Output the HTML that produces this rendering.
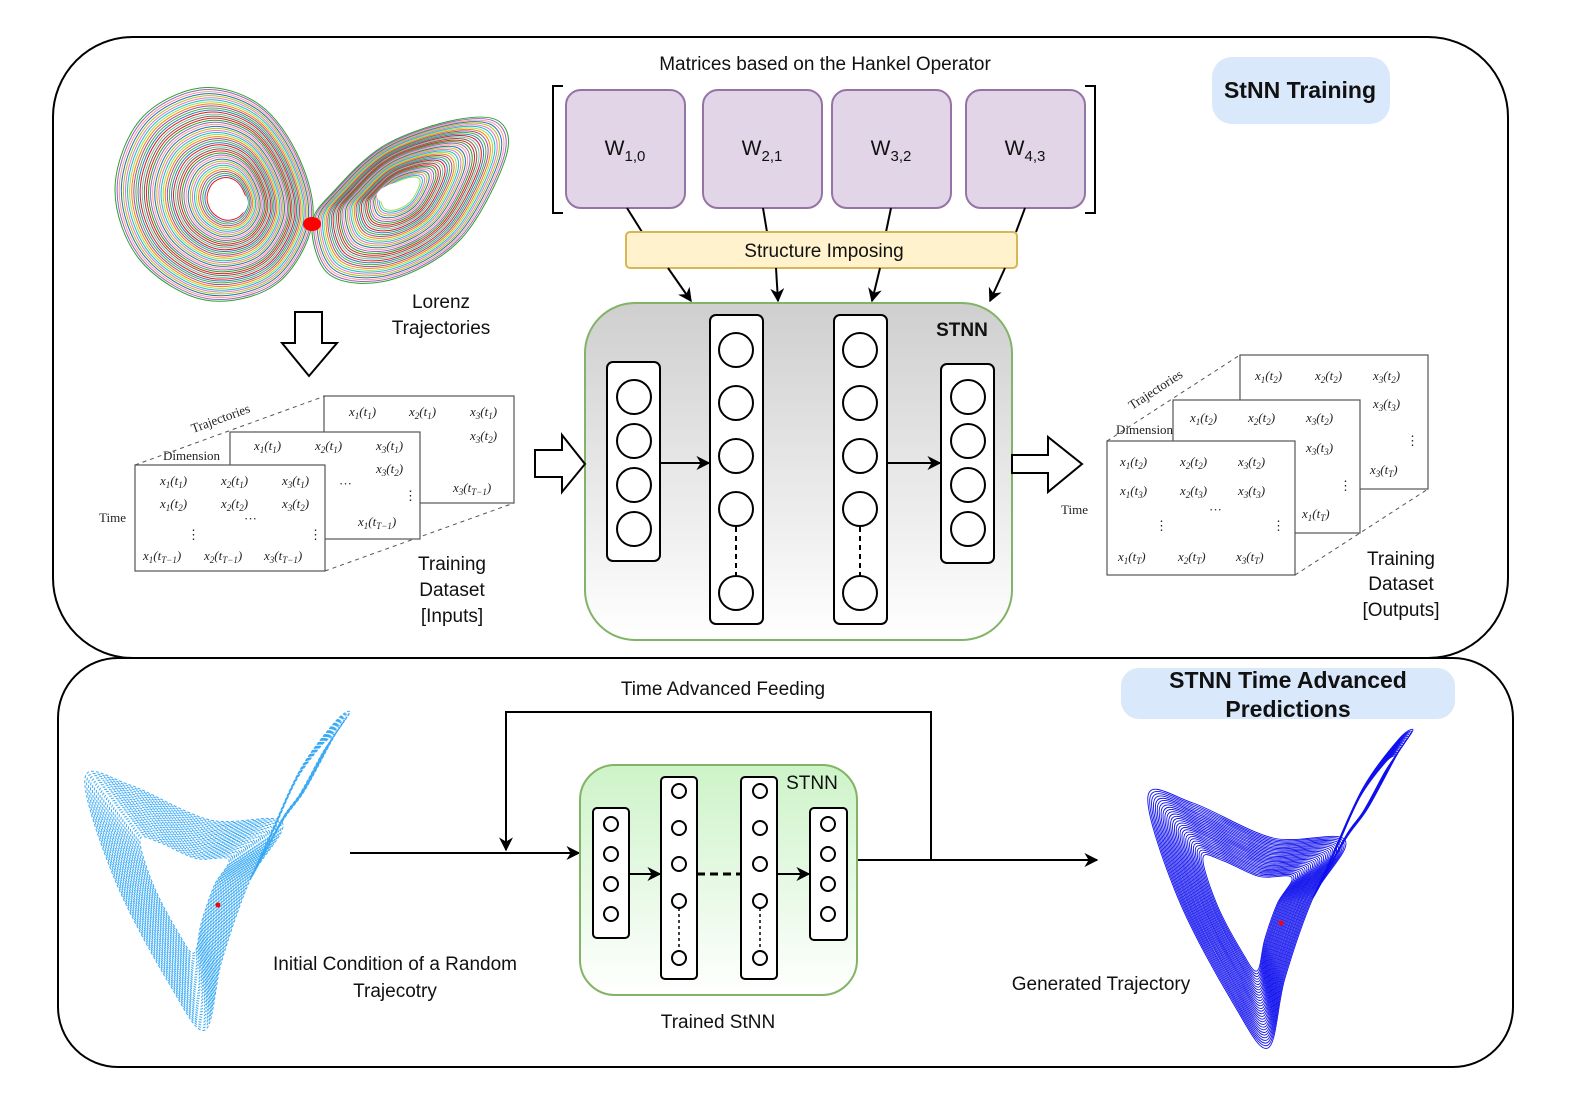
<!DOCTYPE html>
<html><head><meta charset="utf-8"><style>
html,body{margin:0;padding:0;background:#fff;overflow:hidden;width:1578px;height:1114px}
svg{display:block}
text{font-family:"Liberation Sans",sans-serif;fill:#111}
.m{font-family:"Liberation Serif",serif;font-style:italic;font-size:13px;fill:#222}
.mr{font-family:"Liberation Serif",serif;font-size:13px;fill:#222}
</style></head><body>
<svg id="s" width="1578" height="1114" viewBox="0 0 1578 1114" xmlns="http://www.w3.org/2000/svg">
<defs>
<linearGradient id="g1" x1="0" y1="0" x2="0" y2="1"><stop offset="0" stop-color="#cfcfcf"/><stop offset="1" stop-color="#ffffff"/></linearGradient>
<linearGradient id="g2" x1="0" y1="0" x2="0" y2="1"><stop offset="0" stop-color="#cdf3c8"/><stop offset="1" stop-color="#ffffff"/></linearGradient>
<marker id="ar" viewBox="0 0 10 10" refX="9" refY="5" markerWidth="7" markerHeight="7" orient="auto"><path d="M0,0 L10,5 L0,10 L3,5 z" fill="#000"/></marker>
</defs>
<rect x="53" y="37" width="1455" height="621" rx="80" fill="none" stroke="#000" stroke-width="2"/>
<rect x="58" y="658" width="1455" height="409" rx="60" fill="none" stroke="#000" stroke-width="2"/>
<g id="attr"></g>

<text x="825" y="70" font-size="19" text-anchor="middle">Matrices based on the Hankel Operator</text>
<rect x="1212" y="57" width="178" height="67" rx="20" fill="#dae8fc"/>
<text x="1300" y="98" font-size="23" font-weight="bold" text-anchor="middle">StNN Training</text>
<path d="M563,86 H553 V213 H563 M1085,86 H1095 V213 H1085" fill="none" stroke="#000" stroke-width="2"/>
<g fill="#e1d5e7" stroke="#9673a6" stroke-width="2">
<rect x="566" y="90" width="119" height="118" rx="15"/>
<rect x="703" y="90" width="119" height="118" rx="15"/>
<rect x="832" y="90" width="119" height="118" rx="15"/>
<rect x="966" y="90" width="119" height="118" rx="15"/>
</g>
<g font-size="21" text-anchor="middle">
<text x="625" y="155">W<tspan font-size="15" dy="6">1,0</tspan></text>
<text x="762" y="155">W<tspan font-size="15" dy="6">2,1</tspan></text>
<text x="891" y="155">W<tspan font-size="15" dy="6">3,2</tspan></text>
<text x="1025" y="155">W<tspan font-size="15" dy="6">4,3</tspan></text>
</g>
<g stroke="#000" stroke-width="2"><line x1="627" y1="208" x2="642" y2="232"/><line x1="763" y1="208" x2="767" y2="232"/><line x1="891" y1="208" x2="886" y2="232"/><line x1="1025" y1="208" x2="1016" y2="232"/></g>
<rect x="626" y="232" width="391" height="36" rx="4" fill="#fff2cc" stroke="#d6b656" stroke-width="2"/>
<text x="824" y="257" font-size="19" text-anchor="middle">Structure Imposing</text>
<g stroke="#000" stroke-width="2" marker-end="url(#ar)"><line x1="668" y1="268" x2="691" y2="301"/><line x1="776" y1="268" x2="778" y2="301"/><line x1="880" y1="268" x2="872" y2="301"/><line x1="1005" y1="268" x2="990" y2="301"/></g>

<rect x="585" y="303" width="427" height="337" rx="50" fill="url(#g1)" stroke="#82b366" stroke-width="2"/>
<text x="962" y="336" font-size="19" font-weight="bold" text-anchor="middle">STNN</text>
<g fill="#fff" stroke="#000" stroke-width="2">
<rect x="607" y="362" width="53" height="199" rx="6"/>
<rect x="710" y="315" width="53" height="309" rx="6"/>
<rect x="834" y="315" width="53" height="309" rx="6"/>
<rect x="941" y="364" width="53" height="199" rx="6"/>
<circle cx="634" cy="397" r="17"/><circle cx="634" cy="441" r="17"/><circle cx="634" cy="485" r="17"/><circle cx="634" cy="529" r="17"/>
<circle cx="736" cy="350" r="17"/><circle cx="736" cy="403" r="17"/><circle cx="736" cy="456" r="17"/><circle cx="736" cy="509" r="17"/><circle cx="736" cy="593" r="17"/>
<circle cx="860" cy="350" r="17"/><circle cx="860" cy="403" r="17"/><circle cx="860" cy="456" r="17"/><circle cx="860" cy="509" r="17"/><circle cx="860" cy="593" r="17"/>
<circle cx="968" cy="397" r="17"/><circle cx="968" cy="441" r="17"/><circle cx="968" cy="485" r="17"/><circle cx="968" cy="529" r="17"/>
</g>
<g stroke="#000" stroke-width="2" stroke-dasharray="5,4"><line x1="736" y1="527" x2="736" y2="576"/><line x1="860" y1="527" x2="860" y2="576"/></g>
<g stroke="#000" stroke-width="2" marker-end="url(#ar)"><line x1="660" y1="463" x2="709" y2="463"/><line x1="887" y1="463" x2="940" y2="463"/></g>

<g fill="#fff" stroke="#000" stroke-width="2">
<path d="M295,312 H322 V343 H337 L309,376 L282,343 H295 Z"/>
<path d="M535,450 H562 V435 L585,464 L562,492 V477 H535 Z"/>
<path d="M1012,455 H1048 V437 L1082,464 L1048,492 V473 H1012 Z"/>
</g>
<text x="441" y="308" font-size="19" text-anchor="middle">Lorenz</text>
<text x="441" y="334" font-size="19" text-anchor="middle">Trajectories</text>
<text x="452" y="570" font-size="19" text-anchor="middle">Training</text>
<text x="452" y="596" font-size="19" text-anchor="middle">Dataset</text>
<text x="452" y="622" font-size="19" text-anchor="middle">[Inputs]</text>
<text x="1401" y="565" font-size="19" text-anchor="middle">Training</text>
<text x="1401" y="590" font-size="19" text-anchor="middle">Dataset</text>
<text x="1401" y="616" font-size="19" text-anchor="middle">[Outputs]</text>

<g stroke="#555" stroke-width="1" stroke-dasharray="4,4" fill="none">
<line x1="135" y1="465" x2="325" y2="396"/><line x1="325" y1="571" x2="514" y2="503"/><line x1="420" y1="396" x2="514" y2="396"/>
</g>
<g stroke="#555" stroke-width="1.2" fill="#fff">
<rect x="324" y="396" width="190" height="107"/>
<rect x="230" y="432" width="190" height="107"/>
<rect x="135" y="465" width="190" height="106"/>
</g>
<text class="m" x="349" y="416">x<tspan font-size="9" dy="3">1</tspan><tspan dy="-3">(t</tspan><tspan font-size="9" dy="3">1</tspan><tspan dy="-3">)</tspan></text>
<text class="m" x="409" y="416">x<tspan font-size="9" dy="3">2</tspan><tspan dy="-3">(t</tspan><tspan font-size="9" dy="3">1</tspan><tspan dy="-3">)</tspan></text>
<text class="m" x="470" y="416">x<tspan font-size="9" dy="3">3</tspan><tspan dy="-3">(t</tspan><tspan font-size="9" dy="3">1</tspan><tspan dy="-3">)</tspan></text>
<text class="m" x="470" y="440">x<tspan font-size="9" dy="3">3</tspan><tspan dy="-3">(t</tspan><tspan font-size="9" dy="3">2</tspan><tspan dy="-3">)</tspan></text>
<text class="m" x="453" y="492">x<tspan font-size="9" dy="3">3</tspan><tspan dy="-3">(t</tspan><tspan font-size="9" dy="3">T−1</tspan><tspan dy="-3">)</tspan></text>
<text class="m" x="254" y="450">x<tspan font-size="9" dy="3">1</tspan><tspan dy="-3">(t</tspan><tspan font-size="9" dy="3">1</tspan><tspan dy="-3">)</tspan></text>
<text class="m" x="315" y="450">x<tspan font-size="9" dy="3">2</tspan><tspan dy="-3">(t</tspan><tspan font-size="9" dy="3">1</tspan><tspan dy="-3">)</tspan></text>
<text class="m" x="376" y="450">x<tspan font-size="9" dy="3">3</tspan><tspan dy="-3">(t</tspan><tspan font-size="9" dy="3">1</tspan><tspan dy="-3">)</tspan></text>
<text class="m" x="376" y="473">x<tspan font-size="9" dy="3">3</tspan><tspan dy="-3">(t</tspan><tspan font-size="9" dy="3">2</tspan><tspan dy="-3">)</tspan></text>
<text class="m" x="358" y="526">x<tspan font-size="9" dy="3">1</tspan><tspan dy="-3">(t</tspan><tspan font-size="9" dy="3">T−1</tspan><tspan dy="-3">)</tspan></text>
<text class="mr" x="404" y="500">⋮</text>
<text class="mr" x="339" y="488">···</text>
<text class="m" x="160" y="485">x<tspan font-size="9" dy="3">1</tspan><tspan dy="-3">(t</tspan><tspan font-size="9" dy="3">1</tspan><tspan dy="-3">)</tspan></text>
<text class="m" x="221" y="485">x<tspan font-size="9" dy="3">2</tspan><tspan dy="-3">(t</tspan><tspan font-size="9" dy="3">1</tspan><tspan dy="-3">)</tspan></text>
<text class="m" x="282" y="485">x<tspan font-size="9" dy="3">3</tspan><tspan dy="-3">(t</tspan><tspan font-size="9" dy="3">1</tspan><tspan dy="-3">)</tspan></text>
<text class="m" x="160" y="508">x<tspan font-size="9" dy="3">1</tspan><tspan dy="-3">(t</tspan><tspan font-size="9" dy="3">2</tspan><tspan dy="-3">)</tspan></text>
<text class="m" x="221" y="508">x<tspan font-size="9" dy="3">2</tspan><tspan dy="-3">(t</tspan><tspan font-size="9" dy="3">2</tspan><tspan dy="-3">)</tspan></text>
<text class="m" x="282" y="508">x<tspan font-size="9" dy="3">3</tspan><tspan dy="-3">(t</tspan><tspan font-size="9" dy="3">2</tspan><tspan dy="-3">)</tspan></text>
<text class="mr" x="244" y="523">···</text>
<text class="mr" x="187" y="539">⋮</text><text class="mr" x="309" y="539">⋮</text>
<text class="m" x="143" y="560">x<tspan font-size="9" dy="3">1</tspan><tspan dy="-3">(t</tspan><tspan font-size="9" dy="3">T−1</tspan><tspan dy="-3">)</tspan></text>
<text class="m" x="204" y="560">x<tspan font-size="9" dy="3">2</tspan><tspan dy="-3">(t</tspan><tspan font-size="9" dy="3">T−1</tspan><tspan dy="-3">)</tspan></text>
<text class="m" x="264" y="560">x<tspan font-size="9" dy="3">3</tspan><tspan dy="-3">(t</tspan><tspan font-size="9" dy="3">T−1</tspan><tspan dy="-3">)</tspan></text>
<text class="mr" x="99" y="522">Time</text>
<text class="mr" x="163" y="460">Dimension</text>
<text class="mr" x="193" y="433" transform="rotate(-20 193 433)">Trajectories</text>

<g stroke="#555" stroke-width="1" stroke-dasharray="4,4" fill="none">
<line x1="1107" y1="441" x2="1240" y2="355"/><line x1="1295" y1="575" x2="1428" y2="489"/><line x1="1360" y1="355" x2="1428" y2="355"/>
</g>
<g stroke="#555" stroke-width="1.2" fill="#fff">
<rect x="1240" y="355" width="188" height="134"/>
<rect x="1173" y="400" width="187" height="133"/>
<rect x="1107" y="441" width="188" height="134"/>
</g>
<text class="m" x="1255" y="380">x<tspan font-size="9" dy="3">1</tspan><tspan dy="-3">(t</tspan><tspan font-size="9" dy="3">2</tspan><tspan dy="-3">)</tspan></text>
<text class="m" x="1315" y="380">x<tspan font-size="9" dy="3">2</tspan><tspan dy="-3">(t</tspan><tspan font-size="9" dy="3">2</tspan><tspan dy="-3">)</tspan></text>
<text class="m" x="1373" y="380">x<tspan font-size="9" dy="3">3</tspan><tspan dy="-3">(t</tspan><tspan font-size="9" dy="3">2</tspan><tspan dy="-3">)</tspan></text>
<text class="m" x="1373" y="408">x<tspan font-size="9" dy="3">3</tspan><tspan dy="-3">(t</tspan><tspan font-size="9" dy="3">3</tspan><tspan dy="-3">)</tspan></text>
<text class="mr" x="1406" y="445">⋮</text>
<text class="m" x="1370" y="474">x<tspan font-size="9" dy="3">3</tspan><tspan dy="-3">(t</tspan><tspan font-size="9" dy="3">T</tspan><tspan dy="-3">)</tspan></text>
<text class="m" x="1190" y="422">x<tspan font-size="9" dy="3">1</tspan><tspan dy="-3">(t</tspan><tspan font-size="9" dy="3">2</tspan><tspan dy="-3">)</tspan></text>
<text class="m" x="1248" y="422">x<tspan font-size="9" dy="3">2</tspan><tspan dy="-3">(t</tspan><tspan font-size="9" dy="3">2</tspan><tspan dy="-3">)</tspan></text>
<text class="m" x="1306" y="422">x<tspan font-size="9" dy="3">3</tspan><tspan dy="-3">(t</tspan><tspan font-size="9" dy="3">2</tspan><tspan dy="-3">)</tspan></text>
<text class="m" x="1306" y="452">x<tspan font-size="9" dy="3">3</tspan><tspan dy="-3">(t</tspan><tspan font-size="9" dy="3">3</tspan><tspan dy="-3">)</tspan></text>
<text class="mr" x="1339" y="490">⋮</text>
<text class="m" x="1302" y="518">x<tspan font-size="9" dy="3">1</tspan><tspan dy="-3">(t</tspan><tspan font-size="9" dy="3">T</tspan><tspan dy="-3">)</tspan></text>
<text class="m" x="1120" y="466">x<tspan font-size="9" dy="3">1</tspan><tspan dy="-3">(t</tspan><tspan font-size="9" dy="3">2</tspan><tspan dy="-3">)</tspan></text>
<text class="m" x="1180" y="466">x<tspan font-size="9" dy="3">2</tspan><tspan dy="-3">(t</tspan><tspan font-size="9" dy="3">2</tspan><tspan dy="-3">)</tspan></text>
<text class="m" x="1238" y="466">x<tspan font-size="9" dy="3">3</tspan><tspan dy="-3">(t</tspan><tspan font-size="9" dy="3">2</tspan><tspan dy="-3">)</tspan></text>
<text class="m" x="1120" y="495">x<tspan font-size="9" dy="3">1</tspan><tspan dy="-3">(t</tspan><tspan font-size="9" dy="3">3</tspan><tspan dy="-3">)</tspan></text>
<text class="m" x="1180" y="495">x<tspan font-size="9" dy="3">2</tspan><tspan dy="-3">(t</tspan><tspan font-size="9" dy="3">3</tspan><tspan dy="-3">)</tspan></text>
<text class="m" x="1238" y="495">x<tspan font-size="9" dy="3">3</tspan><tspan dy="-3">(t</tspan><tspan font-size="9" dy="3">3</tspan><tspan dy="-3">)</tspan></text>
<text class="mr" x="1209" y="514">···</text>
<text class="mr" x="1155" y="530">⋮</text><text class="mr" x="1272" y="530">⋮</text>
<text class="m" x="1118" y="561">x<tspan font-size="9" dy="3">1</tspan><tspan dy="-3">(t</tspan><tspan font-size="9" dy="3">T</tspan><tspan dy="-3">)</tspan></text>
<text class="m" x="1178" y="561">x<tspan font-size="9" dy="3">2</tspan><tspan dy="-3">(t</tspan><tspan font-size="9" dy="3">T</tspan><tspan dy="-3">)</tspan></text>
<text class="m" x="1236" y="561">x<tspan font-size="9" dy="3">3</tspan><tspan dy="-3">(t</tspan><tspan font-size="9" dy="3">T</tspan><tspan dy="-3">)</tspan></text>
<text class="mr" x="1061" y="514" font-size="14">Time</text>
<text class="mr" x="1116" y="434" font-size="14">Dimension</text>
<text class="mr" x="1132" y="410" font-size="14" transform="rotate(-33 1132 410)">Trajectories</text>

<text x="723" y="695" font-size="19" text-anchor="middle">Time Advanced Feeding</text>
<rect x="1121" y="668" width="334" height="51" rx="18" fill="#dae8fc"/>
<text x="1288" y="688" font-size="23" font-weight="bold" text-anchor="middle">STNN Time Advanced</text>
<text x="1288" y="717" font-size="23" font-weight="bold" text-anchor="middle">Predictions</text>
<path d="M857,860 H931 V712 H506 V850" fill="none" stroke="#000" stroke-width="2" marker-end="url(#ar)"/>
<line x1="931" y1="860" x2="1097" y2="860" stroke="#000" stroke-width="2" marker-end="url(#ar)"/>
<line x1="350" y1="853" x2="579" y2="853" stroke="#000" stroke-width="2" marker-end="url(#ar)"/>
<rect x="580" y="765" width="277" height="230" rx="35" fill="url(#g2)" stroke="#82b366" stroke-width="2"/>
<text x="812" y="789" font-size="19" text-anchor="middle">STNN</text>
<g fill="#fff" stroke="#000" stroke-width="2">
<rect x="593" y="808" width="36" height="130" rx="4"/>
<rect x="661" y="777" width="36" height="202" rx="4"/>
<rect x="741" y="777" width="36" height="202" rx="4"/>
<rect x="810" y="808" width="37" height="132" rx="4"/>
<circle cx="611" cy="824" r="7"/><circle cx="611" cy="854" r="7"/><circle cx="611" cy="884" r="7"/><circle cx="611" cy="914" r="7"/>
<circle cx="679" cy="791" r="7"/><circle cx="679" cy="828" r="7"/><circle cx="679" cy="864" r="7"/><circle cx="679" cy="901" r="7"/><circle cx="679" cy="958" r="7"/>
<circle cx="760" cy="791" r="7"/><circle cx="760" cy="828" r="7"/><circle cx="760" cy="864" r="7"/><circle cx="760" cy="901" r="7"/><circle cx="760" cy="958" r="7"/>
<circle cx="828" cy="824" r="7"/><circle cx="828" cy="854" r="7"/><circle cx="828" cy="884" r="7"/><circle cx="828" cy="914" r="7"/>
</g>
<g stroke="#000" stroke-width="1.5" stroke-dasharray="3,3"><line x1="679" y1="908" x2="679" y2="951"/><line x1="760" y1="908" x2="760" y2="951"/></g>
<line x1="697" y1="874" x2="741" y2="874" stroke="#000" stroke-width="3" stroke-dasharray="8,5"/>
<g stroke="#000" stroke-width="2" marker-end="url(#ar)"><line x1="629" y1="874" x2="660" y2="874"/><line x1="777" y1="874" x2="809" y2="874"/></g>
<text x="718" y="1028" font-size="19" text-anchor="middle">Trained StNN</text>
<text x="395" y="970" font-size="19" text-anchor="middle">Initial Condition of a Random</text>
<text x="395" y="997" font-size="19" text-anchor="middle">Trajecotry</text>
<text x="1101" y="990" font-size="19" text-anchor="middle">Generated Trajectory</text>
</svg>
<script>
(function(){
var g=document.getElementById('attr'),NS='http://www.w3.org/2000/svg';
function el(t,a){var e=document.createElementNS(NS,t);for(var k in a)e.setAttribute(k,a[k]);g.appendChild(e);return e;}
function closed(pts){var n=pts.length,d='M'+pts[0][0].toFixed(1)+','+pts[0][1].toFixed(1);
for(var i=0;i<n;i++){var p0=pts[(i-1+n)%n],p1=pts[i],p2=pts[(i+1)%n],p3=pts[(i+2)%n];
d+=' C'+(p1[0]+(p2[0]-p0[0])/6).toFixed(1)+','+(p1[1]+(p2[1]-p0[1])/6).toFixed(1)+' '+(p2[0]-(p3[0]-p1[0])/6).toFixed(1)+','+(p2[1]-(p3[1]-p1[1])/6).toFixed(1)+' '+p2[0].toFixed(1)+','+p2[1].toFixed(1);}
return d+'Z';}
function scaled(pts,c,s){return pts.map(function(p){return[c[0]+(p[0]-c[0])*s,c[1]+(p[1]-c[1])*s];});}
var cols=['#e41a1c','#377eb8','#4daf4a','#984ea3','#ff7f00','#a6d854','#17becf','#e377c2','#bcbd22','#1f77b4','#ff9896','#9467bd','#2ca02c','#d62728','#8c564b','#66c2a5'];
var L=[[312,225],[300,160],[260,105],[200,88],[140,120],[115,190],[140,260],[205,300],[275,285]];
var R=[[312,225],[330,275],[390,280],[460,240],[505,160],[500,122],[455,120],[385,145],[335,190]];
for(var i=0;i<45;i++){var s=0.2+0.8*i/44;
el('path',{d:closed(scaled(L,[230,200],s)),fill:'none',stroke:cols[i%cols.length],'stroke-width':1});}
for(var i=0;i<40;i++){var s=0.2+0.8*i/39;
el('path',{d:closed(scaled(R,[398,192],s)),fill:'none',stroke:cols[(i+5)%cols.length],'stroke-width':1});}
el('ellipse',{cx:230,cy:203,rx:18,ry:14,fill:'#fff'});
el('ellipse',{cx:396,cy:192,rx:20,ry:9,fill:'#fff',transform:'rotate(-15 396 192)'});
el('ellipse',{cx:312,cy:224,rx:9,ry:7,fill:'#f00'});
function bfly(dx,dy,col,dash,w){
var A=[[282,822],[250,880],[222,960],[205,1030],[170,985],[115,880],[85,778],[130,785],[210,820]];
var B=[[282,822],[305,790],[335,735],[350,712],[335,722],[300,770],[268,840],[250,880]];
for(var i=0;i<30;i++){var s=0.45+0.55*i/29;
var a=A.map(function(p){return[p[0]+dx,p[1]+dy];});
el('path',{d:closed(scaled(a,[185+dx,890+dy],s)),fill:'none',stroke:col,'stroke-width':w,'stroke-dasharray':dash});}
for(var i=0;i<16;i++){var s=0.7+0.3*i/15;
var b=B.map(function(p){return[p[0]+dx,p[1]+dy];});
el('path',{d:closed(scaled(b,[290+dx,800+dy],s)),fill:'none',stroke:col,'stroke-width':w,'stroke-dasharray':dash});}
el('circle',{cx:218+dx,cy:905+dy,r:2.5,fill:'#f00'});}
bfly(0,0,'#3aaaf5','3,2',1);
bfly(1063,18,'#1111ee','none',0.9);
})();
</script>
</body></html>
